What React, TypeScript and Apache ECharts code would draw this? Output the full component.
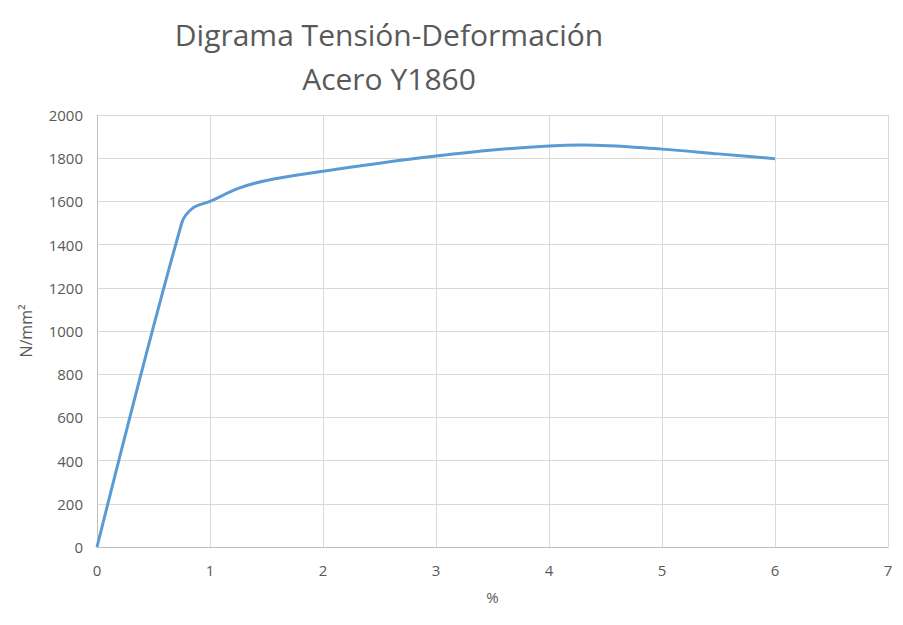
import { useEffect, useRef } from "react";
import * as echarts from "echarts";

const strain = [0, 0.75, 0.85, 1, 1.25, 1.5, 2, 2.5, 3, 3.5, 4, 4.3, 5, 5.5, 6];
const stress = [0, 1500, 1570, 1600, 1660, 1697, 1740, 1777, 1810, 1838, 1857, 1861, 1842, 1820, 1798];

const xTicks = [0, 1, 2, 3, 4, 5, 6, 7];
const yTicks = [0, 200, 400, 600, 800, 1000, 1200, 1400, 1600, 1800, 2000];

const titleLines = ["Digrama Tensión-Deformación", "Acero Y1860"];

const FONT = "'Open Sans', 'Noto Sans', sans-serif";
const TEXT = "#595959";
const GRID = "#d9d9d9";

export default function App() {
  const chartRef = useRef<HTMLDivElement>(null);

  useEffect(() => {
    document.body.style.margin = "0";
    if (!chartRef.current) return;
    const chart = echarts.init(chartRef.current, undefined, { renderer: "svg" });

    const option: echarts.EChartsOption = {
      animation: false,
      backgroundColor: "#ffffff",
      title: {
        text: titleLines.join("\n"),
        left: 384,
        top: 7,
        textAlign: "center",
        textStyle: {
          fontFamily: FONT,
          fontSize: 30,
          fontWeight: "normal",
          color: TEXT,
          lineHeight: 44,
        },
      },
      grid: { left: 97, right: 15, top: 115, bottom: 78 },
      xAxis: {
        type: "value",
        min: xTicks[0],
        max: xTicks[xTicks.length - 1],
        interval: 1,
        name: "%",
        nameLocation: "middle",
        nameGap: 42,
        nameTextStyle: { fontFamily: FONT, fontSize: 15, color: TEXT },
        axisLine: { show: true, lineStyle: { color: "#bfbfbf", width: 1 } },
        axisTick: { show: false },
        axisLabel: { fontFamily: FONT, fontSize: 15, color: TEXT, margin: 15 },
        splitLine: { show: true, lineStyle: { color: GRID, width: 1 } },
      },
      yAxis: {
        type: "value",
        min: yTicks[0],
        max: yTicks[yTicks.length - 1],
        interval: 200,
        name: "N/mm²",
        nameLocation: "middle",
        nameGap: 63,
        nameTextStyle: { fontFamily: FONT, fontSize: 16, color: TEXT },
        axisLine: { show: true, lineStyle: { color: "#bfbfbf", width: 1 } },
        axisTick: { show: false },
        axisLabel: {
          fontFamily: FONT,
          fontSize: 15,
          color: TEXT,
          margin: 14,
          formatter: (v: number) => String(v),
        },
        splitLine: { show: true, lineStyle: { color: GRID, width: 1 } },
      },
      series: [
        {
          type: "line",
          data: strain.map((x, i) => [x, stress[i]]),
          smooth: 0.35,
          showSymbol: false,
          lineStyle: { color: "#5b9bd5", width: 3 },
          itemStyle: { color: "#5b9bd5" },
        },
      ],
    };

    chart.setOption(option);
    return () => {
      chart.dispose();
    };
  }, []);

  return <div ref={chartRef} style={{ width: 903, height: 625 }} />;
}
